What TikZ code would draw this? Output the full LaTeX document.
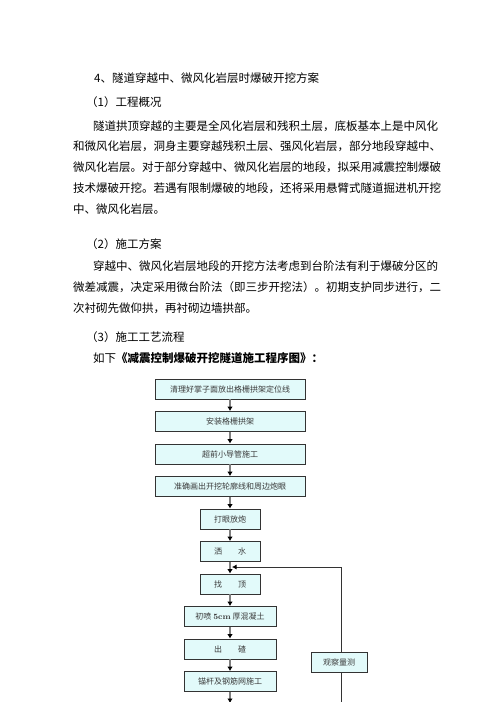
\documentclass[tikz,border=0pt]{standalone}
\usepackage{fontspec}
\usepackage{xcolor}
\usepackage{tikz}
\usetikzlibrary{calc,arrows.meta}
\newfontfamily\cjk{Noto Sans CJK SC}
\XeTeXlinebreaklocale "zh"
\XeTeXlinebreakskip = 0pt plus 2pt

\definecolor{boxfill}{HTML}{E2FAFA}
\definecolor{boxline}{HTML}{333333}
\definecolor{boxtext}{HTML}{3A3A3A}
\definecolor{shaft}{HTML}{7F7F7F}

\begin{document}
\begin{tikzpicture}[x=1pt,y=-1pt,
    txt/.style={anchor=west, inner sep=0pt, font=\cjk\fontsize{11.5pt}{14pt}\selectfont},
    flowbox/.style={draw=boxline, fill=boxfill, line width=0.8pt, minimum height=20pt,
      inner sep=0pt, text=boxtext, font=\cjk\fontsize{8pt}{10pt}\selectfont},
    widebox/.style={flowbox, minimum width=150pt},
    midbox/.style={flowbox, minimum width=92pt},
    narrowbox/.style={flowbox, minimum width=60pt},
    flow/.style={draw=shaft, line width=1.8pt, -{Latex[black,length=4.5pt,width=5.5pt]}},
    back/.style={draw=boxline, line width=0.8pt}]
  \useasboundingbox (0,0) rectangle (496,702);

  % text above the chart
  \node[txt] (t1) at (94,78) {4、隧道穿越中、微风化岩层时爆破开挖方案};
  \node[txt] (t2) at (86,102) {（1）工程概况};
  \node[txt] (t3) at (93,126) {\makebox[354pt][s]{隧道拱顶穿越的主要是全风化岩层和残积土层，底板基本上是中风化}};
  \node[txt] (t4) at (73,146) {\makebox[374pt][s]{和微风化岩层，洞身主要穿越残积土层、强风化岩层，部分地段穿越中、}};
  \node[txt] (t5) at (73,167) {\makebox[374pt][s]{微风化岩层。对于部分穿越中、微风化岩层的地段，拟采用减震控制爆破}};
  \node[txt] (t6) at (73,188) {\makebox[374pt][s]{技术爆破开挖。若遇有限制爆破的地段，还将采用悬臂式隧道掘进机开挖}};
  \node[txt] (t7) at (73,209) {中、微风化岩层。};
  \node[txt] (t8) at (86,244) {（2）施工方案};
  \node[txt] (t9) at (93,266) {\makebox[354pt][s]{穿越中、微风化岩层地段的开挖方法考虑到台阶法有利于爆破分区的}};
  \node[txt] (t10) at (73,287) {\makebox[374pt][s]{微差减震，决定采用微台阶法（即三步开挖法）。初期支护同步进行，二}};
  \node[txt] (t11) at (73,308) {次衬砌先做仰拱，再衬砌边墙拱部。};
  \node[txt] (t12) at (86,337) {（3）施工工艺流程};
  \node[txt] (t13) at (93,358) {如下\textbf{《减震控制爆破开挖隧道施工程序图》：}};

  % flow chart
  \node[widebox] (b1) at (230,389) {清理好掌子面放出格栅拱架定位线};
  \node[widebox] (b2) at ($ (b1) + (0,32.5) $) {安装格栅拱架};
  \node[widebox] (b3) at ($ (b2) + (0,32.5) $) {超前小导管施工};
  \node[widebox] (b4) at ($ (b3) + (0,32.5) $) {准确画出开挖轮廓线和周边炮眼};
  \node[narrowbox] (b5) at ($ (b4) + (0,32.5) $) {打眼放炮};
  \node[narrowbox] (b6) at ($ (b5) + (0,32.5) $) {洒\hspace{2em}水};
  \node[narrowbox] (b7) at ($ (b6) + (0,32.5) $) {找\hspace{2em}顶};
  \node[midbox] (b8) at ($ (b7) + (0,32.5) $) {初喷 {\rmfamily\bfseries 5cm} 厚混凝土};
  \node[midbox] (b9) at ($ (b8) + (0,32.5) $) {出\hspace{2em}碴};
  \node[midbox] (b10) at ($ (b9) + (0,32.5) $) {锚杆及钢筋网施工};
  \node[flowbox, minimum width=56pt] (obs) at (339,662) {观察量测};

  \coordinate (end) at (230,703);
  \coordinate (obsend) at (341,703);
  \coordinate (fb) at (341,567);
  \coordinate (join) at (232,567);

  \foreach \a/\b in {b1/b2,b2/b3,b3/b4,b4/b5,b5/b6,b6/b7,b7/b8,b8/b9,b9/b10,b10/end}
    \draw[flow] (\a) -- (\b);

  \draw[back] (obsend) -- (obs.south -| obsend);
  \draw[back, -{Latex[black,length=4.5pt,width=5pt]}] (obs.north -| fb) -- (fb) -- (join);
\end{tikzpicture}
\end{document}
